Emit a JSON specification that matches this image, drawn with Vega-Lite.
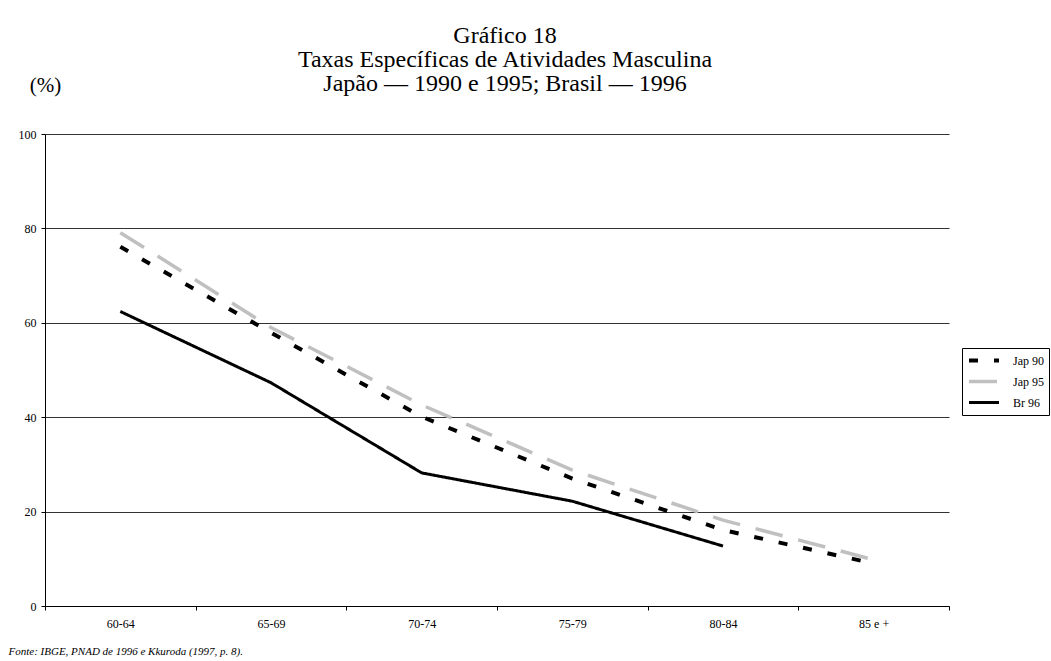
{
  "$schema": "https://vega.github.io/schema/vega-lite/v6.json",
  "autosize": "none",
  "padding": {"left": 45, "top": 134, "right": 102, "bottom": 55},
  "width": 904,
  "height": 472,
  "background": "white",
  "title": {
    "text": ["Gráfico 18", "Taxas Específicas de Atividades Masculina", "Japão — 1990 e 1995; Brasil — 1996"],
    "font": "Liberation Serif",
    "fontSize": 24,
    "fontWeight": "normal",
    "color": "black",
    "lineHeight": 24,
    "anchor": "middle",
    "frame": "group",
    "offset": -22,
    "dx": 8
  },
  "data": {
    "values": [
      {"faixa": "60-64", "serie": "Jap 90", "valor": 76.1},
      {"faixa": "65-69", "serie": "Jap 90", "valor": 57.9},
      {"faixa": "70-74", "serie": "Jap 90", "valor": 40.1},
      {"faixa": "75-79", "serie": "Jap 90", "valor": 27.0},
      {"faixa": "80-84", "serie": "Jap 90", "valor": 16.1},
      {"faixa": "85 e +", "serie": "Jap 90", "valor": 9.0},
      {"faixa": "60-64", "serie": "Jap 95", "valor": 79.1},
      {"faixa": "65-69", "serie": "Jap 95", "valor": 59.0},
      {"faixa": "70-74", "serie": "Jap 95", "valor": 42.6},
      {"faixa": "75-79", "serie": "Jap 95", "valor": 28.8},
      {"faixa": "80-84", "serie": "Jap 95", "valor": 18.2},
      {"faixa": "85 e +", "serie": "Jap 95", "valor": 9.8},
      {"faixa": "60-64", "serie": "Br 96", "valor": 62.4},
      {"faixa": "65-69", "serie": "Br 96", "valor": 47.3},
      {"faixa": "70-74", "serie": "Br 96", "valor": 28.2},
      {"faixa": "75-79", "serie": "Br 96", "valor": 22.2},
      {"faixa": "80-84", "serie": "Br 96", "valor": 12.7}
    ]
  },
  "mark": {"type": "line", "strokeCap": "butt"},
  "encoding": {
    "x": {
      "field": "faixa",
      "type": "ordinal",
      "sort": ["60-64", "65-69", "70-74", "75-79", "80-84", "85 e +"],
      "bandPosition": 0.5,
      "scale": {"type": "band", "paddingInner": 0, "paddingOuter": 0},
      "axis": {
        "title": "Fonte: IBGE, PNAD de 1996 e Kkuroda (1997, p. 8).",
        "titleFont": "Liberation Serif",
        "titleFontSize": 11,
        "titleFontStyle": "italic",
        "titleFontWeight": "normal",
        "titleColor": "black",
        "titleX": -37,
        "titleY": 48,
        "titleAlign": "left",
        "titleBaseline": "alphabetic",
        "labelAngle": 0,
        "labelFont": "Liberation Serif",
        "labelFontSize": 12,
        "labelColor": "black",
        "labelPadding": 8,
        "tickBand": "extent",
        "tickSize": 4,
        "tickColor": "black",
        "domainColor": "black",
        "grid": false
      }
    },
    "y": {
      "field": "valor",
      "type": "quantitative",
      "scale": {"domain": [0, 100], "nice": false},
      "axis": {
        "values": [0, 20, 40, 60, 80, 100],
        "title": "(%)",
        "titleAngle": 0,
        "titleX": 0,
        "titleY": -43,
        "titleAlign": "center",
        "titleBaseline": "alphabetic",
        "titleFont": "Liberation Serif",
        "titleFontSize": 21,
        "titleFontWeight": "normal",
        "titleColor": "black",
        "labelFont": "Liberation Serif",
        "labelFontSize": 12,
        "labelColor": "black",
        "labelPadding": 5,
        "tickSize": 4,
        "tickColor": "black",
        "domainColor": "black",
        "grid": true,
        "gridColor": "#333333",
        "gridWidth": 1
      }
    },
    "color": {
      "field": "serie",
      "type": "nominal",
      "scale": {"domain": ["Jap 90", "Jap 95", "Br 96"], "range": ["#000000", "#c0c0c0", "#000000"]},
      "legend": {
        "title": null,
        "orient": "none",
        "legendX": 917,
        "legendY": 214,
        "strokeColor": "black",
        "fillColor": "white",
        "padding": 5,
        "labelFont": "Liberation Serif",
        "labelFontSize": 12,
        "labelColor": "black",
        "symbolType": "stroke",
        "symbolSize": 900,
        "labelOffset": 12,
        "rowPadding": 6,
        "clipHeight": 15
      }
    },
    "strokeDash": {
      "field": "serie",
      "type": "nominal",
      "scale": {"domain": ["Jap 90", "Jap 95", "Br 96"], "range": [[9, 16], [28, 16], [1, 0]]},
      "legend": null
    },
    "strokeWidth": {
      "field": "serie",
      "type": "nominal",
      "scale": {"type": "ordinal", "domain": ["Jap 90", "Jap 95", "Br 96"], "range": [4, 3.5, 3]},
      "legend": null
    }
  },
  "config": {
    "view": {"stroke": null},
    "font": "Liberation Serif"
  }
}
